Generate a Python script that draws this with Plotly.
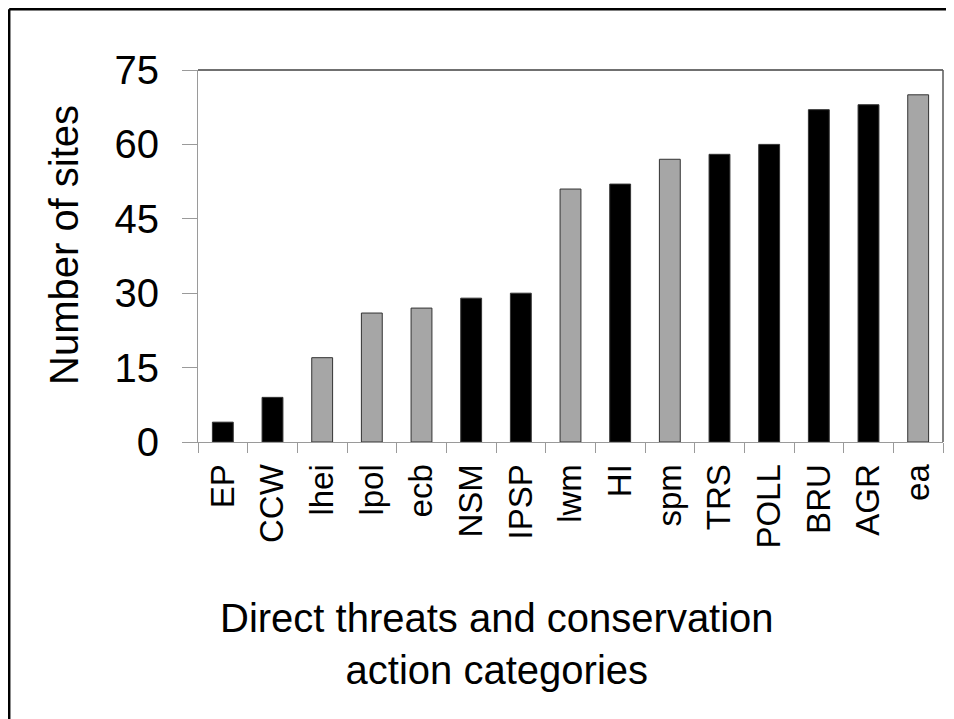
import plotly.graph_objects as go

categories = ["EP", "CCW", "lhei", "lpol", "ecb", "NSM", "IPSP", "lwm", "HI",
              "spm", "TRS", "POLL", "BRU", "AGR", "ea"]
values = [4, 9, 17, 26, 27, 29, 30, 51, 52, 57, 58, 60, 67, 68, 70]
groups = ["threat", "threat", "action", "action", "action", "threat", "threat",
          "action", "threat", "action", "threat", "threat", "threat", "threat", "action"]
y_ticks = [0, 15, 30, 45, 60, 75]

colour_map = {"threat": "#000000", "action": "#a6a6a6"}
bar_colours = [colour_map[g] for g in groups]

# the page body adds an 8px margin, so the figure is laid out in page coords - 8
OFF = 8
W, H = 954 - OFF, 719 - OFF
L, R, T, B = 198 - OFF, 943 - OFF, 70 - OFF, 442 - OFF


def px(xp):
    return (xp - OFF - L) / (R - L)


def py(yp):
    return (B - (yp - OFF)) / (B - T)


fig = go.Figure()
fig.add_trace(go.Bar(
    x=categories, y=values,
    marker=dict(color=bar_colours, line=dict(color="#333333", width=1)),
    width=0.42,
    showlegend=False,
))

FONT = "Liberation Sans, Arial, sans-serif"

fig.update_layout(
    width=W, height=H,
    margin=dict(l=L, r=W - R, t=T, b=H - B, autoexpand=False),
    paper_bgcolor="white", plot_bgcolor="white",
    font=dict(family=FONT, color="black"),
    xaxis=dict(
        type="category",
        showline=True, linecolor="#9a9a9a", linewidth=1,
        ticks="outside", tickson="boundaries", ticklen=10, tickcolor="#9a9a9a",
        tickwidth=1,
        tickangle=-90, tickfont=dict(size=33, family=FONT, color="black"),
        ticklabelstandoff=8,
        showgrid=False, zeroline=False,
        range=[-0.5, len(categories) - 0.5],
    ),
    yaxis=dict(
        range=[0, 75], tickvals=y_ticks,
        showline=True, linecolor="#9a9a9a", linewidth=1,
        ticks="outside", ticklen=15, tickcolor="#9a9a9a", tickwidth=1,
        tickfont=dict(size=40, family=FONT, color="black"),
        ticklabelstandoff=15,
        showgrid=False, zeroline=False,
    ),
    shapes=[
        # plot frame: top and right
        dict(type="line", xref="paper", yref="paper", x0=0, x1=1, y0=1, y1=1,
             line=dict(color="#404040", width=1.5)),
        dict(type="line", xref="paper", yref="paper", x0=1, x1=1, y0=0, y1=1,
             line=dict(color="#595959", width=1.5)),
        # outer border: top and left
        dict(type="line", xref="paper", yref="paper",
             x0=px(OFF + 1.2), x1=px(960),
             y0=py(OFF + 1.2), y1=py(OFF + 1.2),
             line=dict(color="black", width=2.5)),
        dict(type="line", xref="paper", yref="paper",
             x0=px(OFF + 1.2), x1=px(OFF + 1.2),
             y0=py(OFF + 1.2), y1=py(730),
             line=dict(color="black", width=2.5)),
    ],
    annotations=[
        dict(text="Number of sites", textangle=-90, showarrow=False,
             xref="paper", yref="paper",
             x=px(64), y=py(245),
             xanchor="center", yanchor="middle",
             font=dict(size=40, family=FONT, color="black")),
        dict(text="Direct threats and conservation<br>action categories",
             showarrow=False, xref="paper", yref="paper",
             x=px(497), y=py(644),
             xanchor="center", yanchor="middle", align="center",
             font=dict(size=40, family=FONT, color="black")),
    ],
)

fig.write_html("out.html")
